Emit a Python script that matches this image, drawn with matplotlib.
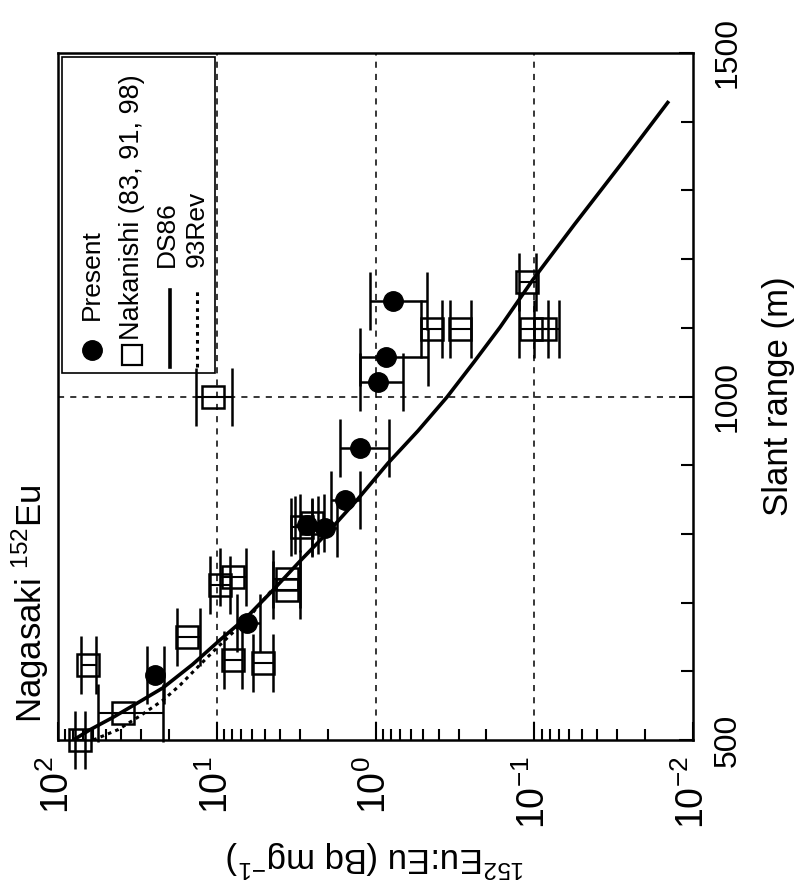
import numpy as np
import matplotlib.pyplot as plt
from matplotlib.patches import Rectangle
from matplotlib.ticker import LogLocator, MultipleLocator, NullFormatter

plt.rcParams['font.family'] = ['Liberation Sans', 'DejaVu Sans']
plt.rcParams['mathtext.fontset'] = 'custom'
plt.rcParams['mathtext.rm'] = 'Liberation Sans'
plt.rcParams['mathtext.it'] = 'Liberation Sans:italic'
plt.rcParams['mathtext.bf'] = 'Liberation Sans:bold'
NARROW = ['Liberation Sans Narrow', 'Liberation Sans', 'DejaVu Sans']

# The published figure is turned a quarter turn: slant range runs up the page,
# the 152Eu:Eu value runs right to left on a log scale.

# Present work (filled circles)
present_range = [595, 670, 809, 813, 849, 925, 1021, 1057, 1139]
present_val = [24.5, 6.44, 2.08, 2.7, 1.56, 1.25, 0.964, 0.859, 0.776]
present_lo = [21.4, 5.35, 1.75, 2.3, 1.25, 0.822, 0.671, 0.467, 0.474]
present_hi = [27.5, 7.45, 2.5, 3.2, 1.9, 1.67, 1.25, 1.25, 1.08]

# Nakanishi (83, 91, 98) (open squares)
naka_range = [500, 539, 609, 612, 616, 650, 726, 737, 718, 735, 810, 816, 1000, 1098, 1098, 1167, 1098, 1098]
naka_val = [72.6, 38.9, 64.7, 5.1, 7.9, 15.4, 9.5, 7.9, 3.6, 3.6, 2.9, 2.5, 10.5, 0.44, 0.294, 0.111, 0.105, 0.085]
naka_lo = [68, 21.8, 58, 4.4, 6.9, 12.7, 8.2, 6.5, 3.0, 3.0, 2.5, 2.1, 8.0, 0.38, 0.25, 0.098, 0.082, 0.07]
naka_hi = [78, 56, 72, 5.9, 9.0, 17.8, 11.0, 9.5, 4.4, 4.4, 3.4, 3.0, 13.5, 0.52, 0.34, 0.125, 0.125, 0.10]

# DS86 calculation (solid) and 93Rev (dotted)
ds86_range = [500, 515, 533, 555, 576, 610, 646, 680, 718, 760, 801, 850, 903, 950, 999, 1050, 1101, 1170, 1250, 1340, 1430]
ds86_val = [80, 62.8, 45, 31, 21.8, 14.2, 9.5, 6.4, 4.43, 3.0, 2.02, 1.3, 0.834, 0.54, 0.355, 0.24, 0.164, 0.102, 0.056, 0.028, 0.0142]
rev_range = [500, 515, 536, 558, 580, 600, 631, 680, 720]
rev_val = [60, 41.9, 30, 21.8, 17, 14, 10.3, 6.2, 4.43]

fig = plt.figure(figsize=(8.08, 8.81), dpi=100)
ax = fig.add_axes([58 / 808, 1 - 740 / 881, 635 / 808, 687 / 881])

ax.plot(ds86_val, ds86_range, color='black', lw=2.6, solid_capstyle='butt', solid_joinstyle='round')
ax.plot(rev_val, rev_range, color='black', lw=2.2, ls=(0, (1.2, 1.4)))

err_p = [np.array(present_val) - np.array(present_lo), np.array(present_hi) - np.array(present_val)]
ax.errorbar(present_val, present_range, xerr=err_p, fmt='o', color='black', ms=14,
            elinewidth=1.8, capsize=21, capthick=1.8, zorder=4, clip_on=False)

err_n = [np.array(naka_val) - np.array(naka_lo), np.array(naka_hi) - np.array(naka_val)]
ax.errorbar(naka_val, naka_range, xerr=err_n, fmt='s', mfc='none', mec='black', mew=1.8,
            color='black', ms=16, elinewidth=1.5, capsize=21, capthick=1.5, zorder=3, clip_on=False)

ax.set_xscale('log')
ax.set_xlim(100, 0.01)
ax.set_ylim(500, 1500)

ax.xaxis.set_minor_locator(LogLocator(base=10, subs=np.arange(2, 10), numticks=20))
ax.xaxis.set_minor_formatter(NullFormatter())
ax.set_xticks([100, 10, 1, 0.1, 0.01])
ax.set_xticklabels([r'$\mathregular{10^{2}}$', r'$\mathregular{10^{1}}$', r'$\mathregular{10^{0}}$',
                    r'$\mathregular{10^{-1}}$', r'$\mathregular{10^{-2}}$'])
ax.yaxis.tick_right()
ax.yaxis.set_label_position('right')
ax.set_yticks([500, 1000, 1500])
ax.yaxis.set_minor_locator(MultipleLocator(100))

ax.tick_params(axis='x', which='both', direction='in', top=False, bottom=True,
               labelsize=27, labelrotation=90, pad=12)
ax.tick_params(axis='x', which='major', length=13, width=1.5)
ax.tick_params(axis='x', which='minor', length=8, width=1.5)
ax.tick_params(axis='y', which='both', direction='in', left=False, right=True,
               labelsize=23, labelrotation=90, pad=14)
ax.tick_params(axis='y', which='major', length=10, width=1.5)
ax.tick_params(axis='y', which='minor', length=9, width=1.5)
for lab in ax.get_yticklabels():
    lab.set_va('center')
    lab.set_family(NARROW)

for v in [10, 1, 0.1]:
    ax.axvline(v, color='black', lw=1.1, ls=(0, (4, 4)), zorder=1)
ax.axhline(1000, color='black', lw=1.1, ls=(0, (4, 4)), zorder=1)

for s in ax.spines.values():
    s.set_linewidth(1.8)

ax.set_xlabel(r'$\mathregular{^{152}}$Eu:Eu (Bq mg$\mathregular{^{-1}}$)', fontsize=25,
              rotation=180, labelpad=6)
ax.set_ylabel('Slant range (m)', fontsize=25, rotation=90, labelpad=14, family=NARROW)

fig.text(30 / 808, 1 - 723 / 881, r'Nagasaki $\mathregular{^{152}}$Eu', fontsize=25,
         rotation=90, ha='center', va='bottom', family=NARROW)

# legend drawn by hand, since it is turned with the chart
T = ax.transAxes
ax.add_patch(Rectangle((0.006, 0.534), 0.241, 0.46, transform=T, fill=False,
                       lw=1.2, ec='black', zorder=5))
ax.plot([0.053], [0.568], 'o', color='black', ms=14, transform=T, zorder=6)
ax.text(0.053, 0.611, 'Present', transform=T, rotation=90, ha='center', va='bottom',
        fontsize=19, zorder=6)
ax.plot([0.116], [0.560], 's', mfc='none', mec='black', mew=1.6, ms=14, transform=T, zorder=6)
ax.text(0.116, 0.582, 'Nakanishi (83, 91, 98)', transform=T, rotation=90, ha='center',
        va='bottom', fontsize=19.5, zorder=6)
ax.plot([0.176, 0.176], [0.543, 0.655], color='black', lw=2.6, transform=T, zorder=6)
ax.text(0.172, 0.689, 'DS86', transform=T, rotation=90, ha='center', va='bottom',
        fontsize=19, zorder=6)
ax.plot([0.219, 0.219], [0.543, 0.655], color='black', lw=2.2, ls=(0, (1.2, 1.4)),
        transform=T, zorder=6)
ax.text(0.219, 0.689, '93Rev', transform=T, rotation=90, ha='center', va='bottom',
        fontsize=19, zorder=6)

fig.savefig('out.png', dpi=100)
